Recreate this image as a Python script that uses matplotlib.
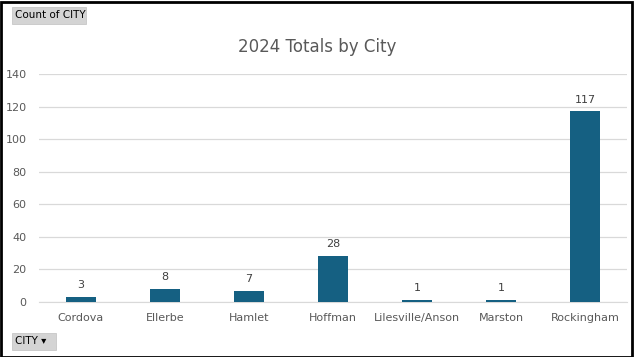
import matplotlib
matplotlib.use("Agg")
import matplotlib.pyplot as plt
from matplotlib.patches import Rectangle

cities = ["Cordova", "Ellerbe", "Hamlet", "Hoffman", "Lilesville/Anson", "Marston", "Rockingham"]
counts = [3, 8, 7, 28, 1, 1, 117]
yticks = [0, 20, 40, 60, 80, 100, 120, 140]

W, H = 634, 357
fig = plt.figure(figsize=(W / 100, H / 100), dpi=100)
fig.patch.set_facecolor("white")

# axes region in pixels
x0, x1 = 39, 627
ytop, ybot = 74, 302
ax = fig.add_axes([x0 / W, 1 - ybot / H, (x1 - x0) / W, (ybot - ytop) / H])
x = range(len(cities))
ax.bar(x, counts, width=0.36, color="#156082", zorder=3)
ax.set_xlim(-0.5, len(cities) - 0.5)
ax.set_ylim(0, 140)
ax.set_yticks(yticks)
ax.set_yticklabels([str(t) for t in yticks], fontsize=8, color="#595959")
ax.set_xticks(list(x))
ax.set_xticklabels(cities, fontsize=8, color="#595959")
ax.tick_params(length=0, pad=8)
ax.tick_params(axis="y", pad=9)
ax.grid(axis="y", color="#d9d9d9", linewidth=0.9, zorder=0)
for s in ["top", "right", "left"]:
    ax.spines[s].set_visible(False)
ax.spines["bottom"].set_color("#d9d9d9")
for i, v in enumerate(counts):
    ax.annotate(str(v), (i, v), xytext=(0, 5), textcoords="offset points",
                ha="center", va="bottom", fontsize=8, color="#404040")

fig.text(0.5, 1 - 47 / H, "2024 Totals by City", ha="center", va="center",
         fontsize=12, color="#595959")

# border
fig.add_artist(Rectangle((0.5 / W, 0.5 / H), 1 - 2.5 / W, 1 - 2.5 / H, transform=fig.transFigure,
                         fill=False, edgecolor="black", linewidth=2))

# pivot buttons
def button(px, py, pw, ph, label):
    fig.add_artist(Rectangle((px / W, 1 - (py + ph) / H), pw / W, ph / H,
                             transform=fig.transFigure, facecolor="#d4d4d4",
                             edgecolor="#c0c0c0", linewidth=0.5))
    fig.text((px + 3) / W, 1 - (py + ph / 2) / H, label, ha="left", va="center",
             fontsize=7.5, color="black")

button(12, 7, 74, 17, "Count of CITY")
button(12, 333, 44, 17, "CITY \u25BE")

fig.savefig("out.png", dpi=100)
